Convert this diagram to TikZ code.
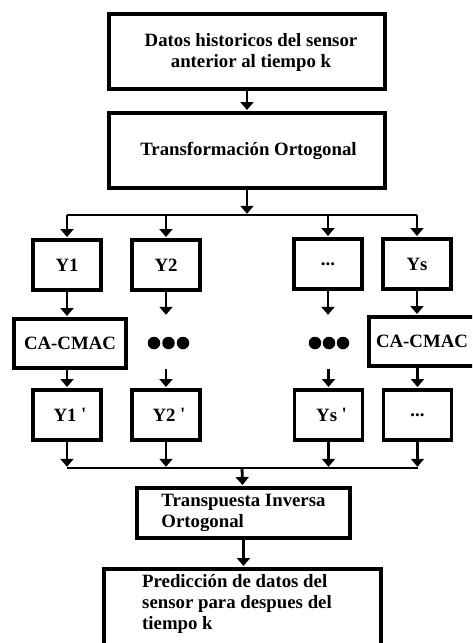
\documentclass[tikz,border=0pt]{standalone}
\usepackage{fontspec}
\setmainfont{Liberation Serif}
\usetikzlibrary{arrows.meta}
\newcommand{\primemark}{\hspace{4.5pt}\raisebox{1pt}{\textquotesingle}}
\begin{document}
\begin{tikzpicture}[x=1pt,y=-1pt,
  txt/.style={inner sep=0pt,font=\bfseries\fontsize{18.8}{21}\selectfont},
  box/.style={txt,draw,line width=3.6pt},
  ybox/.style={box,minimum width=68pt,minimum height=50pt},
  flow/.style={line width=2.8pt,-{Triangle[width=13pt,length=8pt]},shorten >=1.2pt},
  bus/.style={line width=2.8pt},
  blob/.style={circle,fill,inner sep=0pt,minimum size=12.5pt}]
\useasboundingbox (0,0) rectangle (472,643);
\clip (0,0) rectangle (472,643);

% top of the chain
\node[box,minimum width=276pt,minimum height=75pt] (hist) at (247,51.5) {};
\node[txt,align=center] (histtxt) at (251,52)
  {Datos historicos del sensor\\anterior al tiempo k};
\node[box,minimum width=276pt,minimum height=75pt] (trans) at (247,150.5)
  {\hspace{3pt}Transformación Ortogonal};

% split into components
\node[ybox] (y1) at (67,265) {Y1};
\node[ybox] (y2) at (166,265) {Y2};
\node[ybox] (yd) at (328,264) {...};
\node[ybox] (ys) at (417,264) {Ys};

% per-component predictors
\node[box,minimum width=112pt,minimum height=49pt] (ca1) at (70,343.5) {CA-CMAC};
\node[box,minimum width=106pt,minimum height=49pt] (cas) at (422,341.5) {CA-CMAC};
\node[blob] (da1) at (154,343) {};
\node[blob] (da2) at (168.5,343) {};
\node[blob] (da3) at (183,343) {};
\node[blob] (db1) at (315,343) {};
\node[blob] (db2) at (329,343) {};
\node[blob] (db3) at (343,343) {};

% predicted components
\node[ybox] (p1) at (67,415) {\hspace{6pt}Y1\primemark};
\node[ybox] (p2) at (166,415) {\hspace{6pt}Y2\primemark};
\node[ybox] (ps) at (328.5,415) {\hspace{6pt}Ys\primemark};
\node[ybox] (pd) at (417.5,415) {...};

% recombination
\node[box,minimum width=213pt,minimum height=50pt,align=left] (inv) at (243.5,513)
  {Transpuesta Inversa\\Ortogonal};
\node[box,minimum width=277pt,minimum height=95pt] (pred) at (242.5,616.5) {};
\node[txt,anchor=west,align=left] (predtxt) at (142,604)
  {Predicción de datos del\\sensor para despues del\\tiempo k};

% buses
\coordinate (busT) at (247,215);
\coordinate (busB) at (242,468);
\draw[bus] (y1.north |- busT) -- (ys.north |- busT);
\draw[bus] (p1.south |- busB) -- (pd.south |- busB);

% connectors
\draw[flow] (hist) -- (trans);
\draw[flow] (trans) -- (busT);
\foreach \n in {y1,y2,yd,ys} \draw[flow] (\n.north |- busT) -- (\n.north);

\draw[flow] (y1) -- (y1.south |- ca1.north);
\draw[flow] (ys) -- (ys.south |- cas.north);
\coordinate (e2) at (166,316);
\coordinate (ed) at (328,316);
\draw[flow] (y2) -- (e2);
\draw[flow] (yd) -- (ed);

\coordinate (s2) at (166,369);
\coordinate (sd) at (328.5,369);
\draw[flow] (ca1.south -| p1) -- (p1);
\draw[flow] (s2) -- (p2);
\draw[flow] (sd) -- (ps);
\draw[flow] (cas.south -| pd) -- (pd);

\foreach \n in {p1,p2,ps,pd} \draw[flow] (\n) -- (\n.south |- busB);
\draw[flow] (busB) -- (inv);
\draw[flow] (inv) -- (inv.south |- pred.north);
\end{tikzpicture}
\end{document}
